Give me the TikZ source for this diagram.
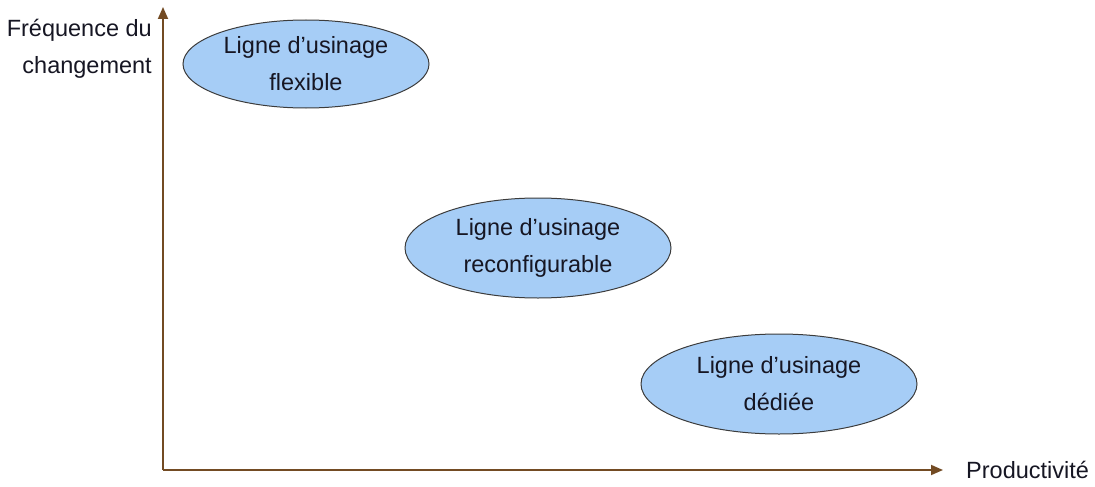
\documentclass[tikz,border=0pt]{standalone}
\usepackage{fontspec}
\setmainfont{Liberation Sans}
\usetikzlibrary{arrows.meta,shapes.geometric}
\definecolor{axisbrown}{RGB}{115,75,35}
\definecolor{ellfill}{RGB}{166,205,246}
\definecolor{ellline}{RGB}{60,60,60}
\definecolor{txt}{RGB}{22,22,35}
\tikzset{
  x=1pt,y=-1pt,
  axis/.style={draw=axisbrown,line width=1.8pt,-{Triangle[length=12pt,width=10pt]}},
  blob/.style={ellipse,draw=ellline,line width=1pt,fill=ellfill,inner sep=0pt,
    align=center,text=txt,font=\fontsize{23.5}{37}\selectfont},
  lbl/.style={text=txt,font=\fontsize{23.5}{37}\selectfont,inner sep=0pt}
}
\begin{document}
\begin{tikzpicture}
\useasboundingbox (0,0) rectangle (1095,487);
\coordinate (O) at (163,470);
\coordinate (Ytop) at (163,7);
\coordinate (Xend) at (943,470);
\draw[axis] (O) -- (Ytop);
\draw[axis] (O) -- (Xend);
\node[blob,minimum width=246pt,minimum height=88pt] (flex) at (306,64) {Ligne d’usinage\\flexible};
\node[blob,minimum width=266pt,minimum height=100pt] (reconf) at (538,248) {Ligne d’usinage\\reconfigurable};
\node[blob,minimum width=276pt,minimum height=100pt] (ded) at (779,384) {Ligne d’usinage\\dédiée};
\node[lbl,align=right,anchor=east] (ylab) at (152,49) {Fréquence du\\changement};
\node[lbl,anchor=west] (xlab) at (966,470) {Productivité};
\end{tikzpicture}
\end{document}
